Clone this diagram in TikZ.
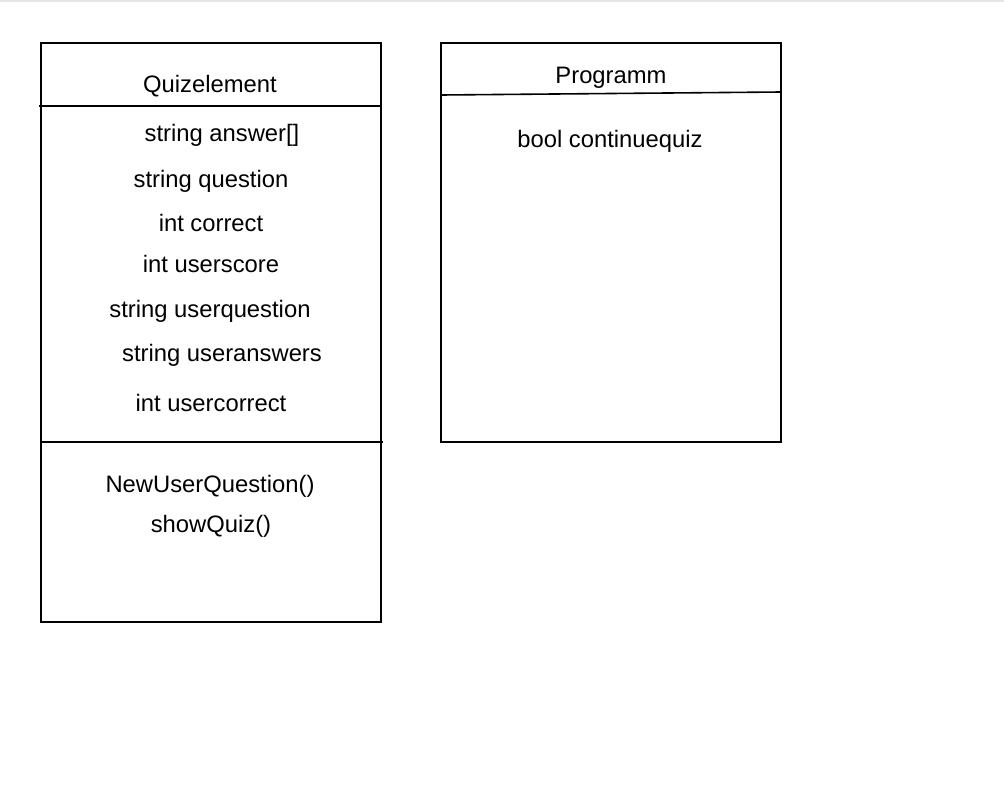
\documentclass[tikz,border=0pt]{standalone}
\usepackage{fontspec}
\setmainfont{Liberation Sans}
\usetikzlibrary{positioning}
\tikzset{
  member/.style={anchor=base,inner sep=0pt,font=\fontsize{23.8}{28}\selectfont},
  classline/.style={draw=black,line width=1.6pt},
  x=1pt,y=-1pt}

\begin{document}
\begin{tikzpicture}
        \useasboundingbox (0,0) rectangle (1004,806);
        \fill[black!10] (0,0) rectangle (1004,2);

        % Quizelement class
        \draw[classline] (41,43) rectangle (381,622);
        \draw[classline] (39,106) -- (381,106);
        \draw[classline] (41,442) -- (383,442);
        \node[member] (qname) at (210,92) {Quizelement};
        \node[member] (answer) at (222,141) {string answer[]};
        \node[member] (question) at (211,187) {string question};
        \node[member] (correct) at (211,231) {int correct};
        \node[member] (userscore) at (211,272) {int userscore};
        \node[member] (userquestion) at (210,317) {string userquestion};
        \node[member] (useranswers) at (222,361) {string useranswers};
        \node[member] (usercorrect) at (211,411) {int usercorrect};
        \node[member] (newuserq) at (210,492) {NewUserQuestion()};
        \node[member] (showquiz) at (211,532) {showQuiz()};

        % Programm class
        \draw[classline] (441,43) rectangle (781,442);
        \draw[classline] (441,95) -- (781,92);
        \node[member] (pname) at (611,83) {Programm};
        \node[member] (continuequiz) at (610,147) {bool continuequiz};
    \end{tikzpicture}
\end{document}
